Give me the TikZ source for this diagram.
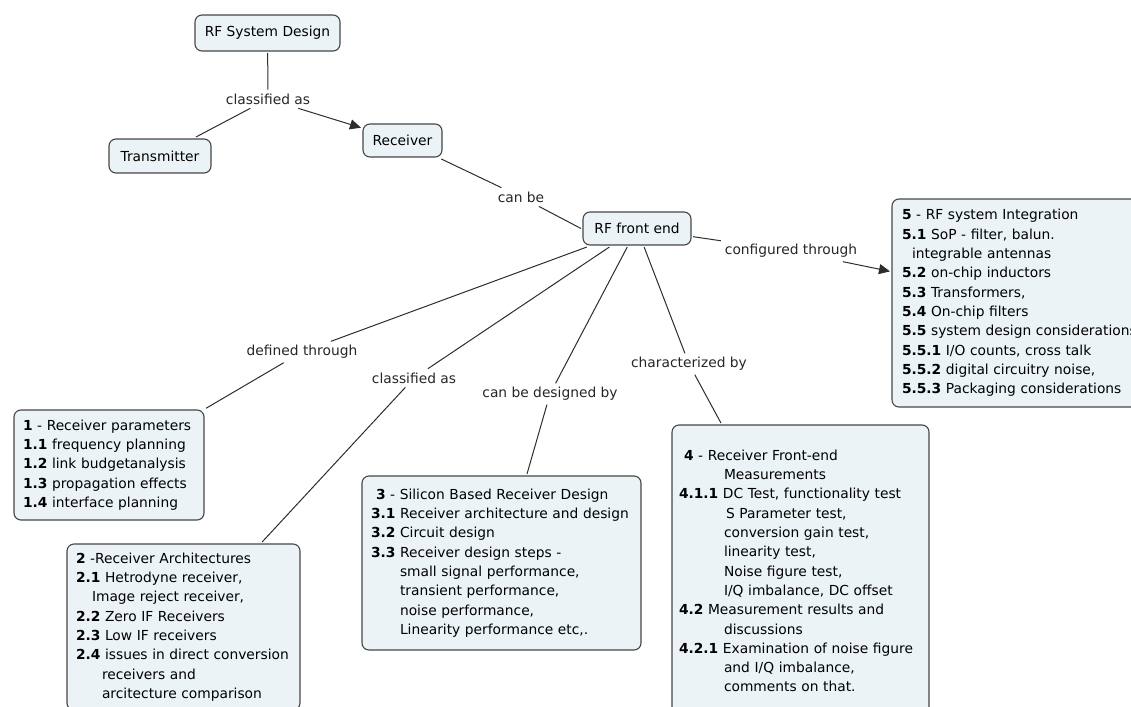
\documentclass[tikz,border=0pt]{standalone}
\usepackage{fontspec}
\setmainfont{DejaVu Sans}
\usetikzlibrary{arrows.meta}

\definecolor{boxfill}{RGB}{236,243,246}
\definecolor{boxline}{RGB}{70,70,70}
\definecolor{linkline}{RGB}{45,45,45}

\tikzset{
  concept/.style={draw=boxline, fill=boxfill, rounded corners=7pt, line width=1.1pt,
    inner sep=0pt, outer sep=2pt, font=\fontsize{13.8}{19.3}\selectfont},
  topic/.style={concept, anchor=north west, align=left, inner xsep=9pt},
  linkword/.style={inner sep=2pt, outer sep=2pt, text=black!85,
    font=\fontsize{13.8}{16}\selectfont},
  link/.style={draw=linkline, line width=1pt},
  arrowlink/.style={link, -{Triangle[length=11pt,width=10pt]}}
}

\begin{document}
\begin{tikzpicture}[x=1pt,y=-1pt]

\useasboundingbox (0,0) rectangle (1131,706);
\clip (0,0) rectangle (1131,706);

% Top concepts
\node[concept, minimum width=145pt, minimum height=36pt] (rfsd) at (267.5,33) {RF System Design};
\node[concept, minimum width=102pt, minimum height=34pt] (tx) at (160,156) {Transmitter};
\node[concept, minimum width=79pt, minimum height=33pt] (rx) at (402.5,140.5) {Receiver};
\node[concept, minimum width=108pt, minimum height=33pt] (fe) at (637,228.5) {RF front end};

% Linking words
\node[linkword] (lclassa) at (268,99) {classified as};
\node[linkword] (lcanbe) at (521,197) {can be};
\node[linkword] (lconf) at (791,251) {configured through};
\node[linkword] (ldef) at (302,352) {defined through};
\node[linkword] (lclassb) at (414,378) {classified as};
\node[linkword] (ldes) at (550,394) {can be designed by};
\node[linkword] (lchar) at (689,364) {characterized by};

% Topic boxes
\node[topic, text width=172pt, minimum height=110pt] (params) at (12,408) {%
\textbf{1} - Receiver parameters\\
\textbf{1.1} frequency planning\\
\textbf{1.2} link budgetanalysis\\
\textbf{1.3} propagation effects\\
\textbf{1.4} interface planning};

\node[topic, text width=215pt, minimum height=166pt] (archs) at (65,542) {%
\textbf{2} -Receiver Architectures\\
\textbf{2.1} Hetrodyne receiver,\\
\hspace*{16pt}Image reject receiver,\\
\textbf{2.2} Zero IF Receivers\\
\textbf{2.3} Low IF receivers\\
\textbf{2.4} issues in direct conversion\\
\hspace*{26pt}receivers and\\
\hspace*{26pt}arcitecture comparison};

\node[topic, text width=261pt, minimum height=174pt] (design) at (360,474) {%
\hspace*{5pt}\textbf{3} - Silicon Based Receiver Design\\
\textbf{3.1} Receiver architecture and design\\
\textbf{3.2} Circuit design\\
\textbf{3.3} Receiver design steps -\\
\hphantom{\textbf{3.3} }small signal performance,\\
\hphantom{\textbf{3.3} }transient performance,\\
\hphantom{\textbf{3.3} }noise performance,\\
\hphantom{\textbf{3.3} }Linearity performance etc,.};

\node[topic, inner xsep=7pt, text width=243pt, minimum height=292pt] (meas) at (670,423) {%
\hspace*{5pt}\textbf{4} - Receiver Front-end\\
\hspace*{45pt}Measurements\\
\textbf{4.1.1} DC Test, functionality test\\
\hspace*{47pt}S Parameter test,\\
\hspace*{45pt}conversion gain test,\\
\hspace*{45pt}linearity test,\\
\hspace*{45pt}Noise figure test,\\
\hspace*{45pt}I/Q imbalance, DC offset\\
\textbf{4.2} Measurement results and\\
\hspace*{45pt}discussions\\
\textbf{4.2.1} Examination of noise figure\\
\hspace*{45pt}and I/Q imbalance,\\
\hspace*{45pt}comments on that.};

\node[topic, inner xsep=10pt, text width=250pt, minimum height=208pt] (integ) at (890,197) {%
\textbf{5} - RF system Integration\\
\textbf{5.1} SoP - filter, balun.\\
\hspace*{10pt}integrable antennas\\
\textbf{5.2} on-chip inductors\\
\textbf{5.3} Transformers,\\
\textbf{5.4} On-chip filters\\
\textbf{5.5} system design considerations\\
\textbf{5.5.1} I/O counts, cross talk\\
\textbf{5.5.2} digital circuitry noise,\\
\textbf{5.5.3} Packaging considerations};

% Connectors
\draw[link] (rfsd) -- (lclassa);
\draw[link] (lclassa) -- (tx);
\draw[arrowlink] (lclassa) -- (rx);
\draw[link] (rx) -- (lcanbe);
\draw[link] (lcanbe) -- (fe.west);
\draw[link] (fe) -- (lconf);
\draw[arrowlink] (lconf) -- (integ.167);
\draw[link] (fe) -- (ldef);
\draw[link] (ldef) -- (params);
\draw[link] (fe) -- (lclassb);
\draw[link] (lclassb) -- (archs);
\draw[link] (fe) -- (ldes);
\draw[link] (ldes) -- (design);
\draw[link] (fe) -- (lchar);
\draw[link] (lchar) -- (meas);

\end{tikzpicture}
\end{document}
